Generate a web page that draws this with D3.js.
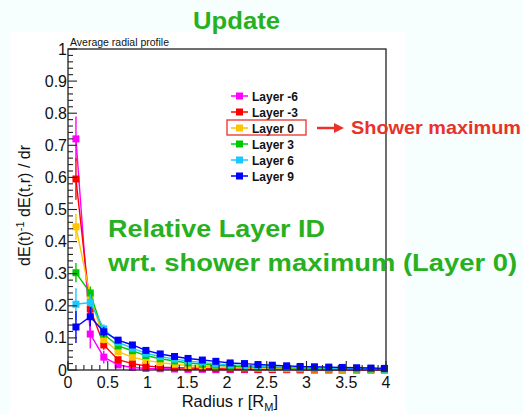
<!DOCTYPE html>
<html>
<head>
<meta charset="utf-8">
<script src="https://cdn.jsdelivr.net/npm/d3@7/dist/d3.min.js"></script>
<style>
  html, body { margin: 0; padding: 0; background: #f7fefe; }
  svg { display: block; }
</style>
</head>
<body>
<svg id="chart" width="523" height="414"></svg>
<script>
// Radial bin centres (in Moliere radii)
const radius = [0.10, 0.28, 0.45, 0.63, 0.81, 0.98, 1.16, 1.34, 1.51, 1.69, 1.86, 2.04,
                2.22, 2.39, 2.57, 2.75, 2.92, 3.10, 3.28, 3.45, 3.63, 3.81, 3.98];

const layerNames = ["Layer -6", "Layer -3", "Layer 0", "Layer 3", "Layer 6", "Layer 9"];
const layerColors = ["#ff00ff", "#ff0000", "#ffc400", "#00c800", "#19c8ff", "#0000ff"];

// Average normalised radial energy profile per layer
const layerM6 = [0.720, 0.112, 0.040, 0.016, 0.008, 0.005, 0.004, 0.003, 0.002, 0.002, 0.001, 0.001,
                 0.001, 0.001, 0.001, 0.001, 0.000, 0.000, 0.000, 0.000, 0.000, 0.000, 0.000];
const layerM3 = [0.595, 0.190, 0.078, 0.032, 0.020, 0.013, 0.009, 0.007, 0.006, 0.005, 0.004, 0.003,
                 0.003, 0.002, 0.002, 0.002, 0.002, 0.001, 0.001, 0.001, 0.001, 0.001, 0.001];
const layer0  = [0.446, 0.230, 0.095, 0.057, 0.040, 0.030, 0.023, 0.018, 0.014, 0.011, 0.009, 0.008,
                 0.007, 0.006, 0.005, 0.004, 0.004, 0.003, 0.003, 0.002, 0.002, 0.002, 0.002];
const layerP3 = [0.303, 0.240, 0.112, 0.075, 0.060, 0.045, 0.035, 0.028, 0.022, 0.018, 0.015, 0.012,
                 0.010, 0.009, 0.008, 0.007, 0.006, 0.005, 0.004, 0.004, 0.003, 0.003, 0.002];
const layerP6 = [0.205, 0.210, 0.128, 0.086, 0.068, 0.052, 0.042, 0.034, 0.028, 0.023, 0.019, 0.016,
                 0.014, 0.012, 0.010, 0.009, 0.008, 0.007, 0.006, 0.005, 0.004, 0.004, 0.003];
const layerP9 = [0.134, 0.166, 0.119, 0.093, 0.078, 0.061, 0.050, 0.042, 0.036, 0.031, 0.027, 0.022,
                 0.020, 0.017, 0.015, 0.013, 0.011, 0.010, 0.009, 0.008, 0.007, 0.006, 0.005];

// Statistical uncertainties
const errM6 = [0.070, 0.045, 0.020, 0.008, 0.004, 0.003, 0.002, 0.002, 0.001, 0.001, 0.001, 0.001,
               0.001, 0.001, 0.001, 0.001, 0.001, 0.001, 0.001, 0.001, 0.001, 0.001, 0.001];
const errM3 = [0.065, 0.030, 0.015, 0.008, 0.005, 0.003, 0.002, 0.002, 0.001, 0.001, 0.001, 0.001,
               0.001, 0.001, 0.001, 0.001, 0.001, 0.001, 0.001, 0.001, 0.001, 0.001, 0.001];
const err0  = [0.040, 0.020, 0.012, 0.008, 0.005, 0.004, 0.003, 0.002, 0.002, 0.001, 0.001, 0.001,
               0.001, 0.001, 0.001, 0.001, 0.001, 0.001, 0.001, 0.001, 0.001, 0.001, 0.001];
const errP3 = [0.030, 0.020, 0.012, 0.008, 0.006, 0.004, 0.003, 0.003, 0.002, 0.002, 0.001, 0.001,
               0.001, 0.001, 0.001, 0.001, 0.001, 0.001, 0.001, 0.001, 0.001, 0.001, 0.001];
const errP6 = [0.050, 0.025, 0.014, 0.009, 0.006, 0.005, 0.004, 0.003, 0.002, 0.002, 0.002, 0.001,
               0.001, 0.001, 0.001, 0.001, 0.001, 0.001, 0.001, 0.001, 0.001, 0.001, 0.001];
const errP9 = [0.050, 0.030, 0.015, 0.010, 0.007, 0.006, 0.004, 0.003, 0.003, 0.002, 0.002, 0.002,
               0.002, 0.001, 0.001, 0.001, 0.001, 0.001, 0.001, 0.001, 0.001, 0.001, 0.001];

const seriesValues = [layerM6, layerM3, layer0, layerP3, layerP6, layerP9];
const seriesErrors = [errM6, errM3, err0, errP3, errP6, errP9];

const xTickValues = [0, 0.5, 1, 1.5, 2, 2.5, 3, 3.5, 4];
const yTickValues = [0, 0.1, 0.2, 0.3, 0.4, 0.5, 0.6, 0.7, 0.8, 0.9, 1];

const svg = d3.select("#chart");
const FONT = "'Liberation Sans', Arial, Helvetica, sans-serif";

// Canvas pad
svg.append("rect").attr("x", 10).attr("y", 32).attr("width", 396).attr("height", 382)
   .attr("fill", "#ffffff");

const frame = { left: 68, right: 386, top: 49, bottom: 370 };
const x = d3.scaleLinear().domain([0, 4]).range([frame.left, frame.right]);
const y = d3.scaleLinear().domain([0, 1]).range([frame.bottom, frame.top]);

// Data: lines, error bars, markers
const plot = svg.append("g");
seriesValues.forEach((vals, s) => {
  const pts = radius.map((r, i) => ({ r, v: vals[i], e: seriesErrors[s][i] }));
  const g = plot.append("g");
  g.append("path")
    .datum(pts)
    .attr("fill", "none")
    .attr("stroke", layerColors[s])
    .attr("stroke-width", 1.4)
    .attr("d", d3.line().x(d => x(d.r)).y(d => y(Math.max(0, d.v))));
  g.selectAll("line.err").data(pts).enter().append("line")
    .attr("x1", d => x(d.r)).attr("x2", d => x(d.r))
    .attr("y1", d => y(Math.max(0, d.v - d.e))).attr("y2", d => y(d.v + d.e))
    .attr("stroke", layerColors[s]).attr("stroke-width", 1.4);
  g.selectAll("rect.mk").data(pts).enter().append("rect")
    .attr("x", d => x(d.r) - 3.5).attr("y", d => y(d.v) - 3.5)
    .attr("width", 7).attr("height", 7)
    .attr("fill", layerColors[s]);
});

// Frame
svg.append("rect")
  .attr("x", frame.left).attr("y", frame.top)
  .attr("width", frame.right - frame.left).attr("height", frame.bottom - frame.top)
  .attr("fill", "none").attr("stroke", "#222").attr("stroke-width", 1.3);

// Axes with inward-pointing ticks
const axisG = svg.append("g").attr("stroke", "#222").attr("stroke-width", 1.1);
d3.range(0, 4.0001, 0.1).forEach(t => {
  const major = Math.abs(t * 2 - Math.round(t * 2)) < 1e-6;
  axisG.append("line").attr("x1", x(t)).attr("x2", x(t))
    .attr("y1", frame.bottom).attr("y2", frame.bottom - (major ? 9 : 5));
});
d3.range(0, 1.0001, 0.02).forEach(t => {
  const major = Math.abs(t * 10 - Math.round(t * 10)) < 1e-6;
  axisG.append("line").attr("y1", y(t)).attr("y2", y(t))
    .attr("x1", frame.left).attr("x2", frame.left + (major ? 9 : 5));
});

const tickFmt = d => d3.format("")(+d.toFixed(1));
svg.append("g").selectAll("text").data(xTickValues).enter().append("text")
  .attr("x", d => x(d)).attr("y", 388)
  .attr("text-anchor", "middle")
  .attr("font-family", FONT).attr("font-size", 16).attr("fill", "#111")
  .text(tickFmt);
svg.append("g").selectAll("text").data(yTickValues).enter().append("text")
  .attr("x", 67).attr("y", d => y(d) + 5.5)
  .attr("text-anchor", "end")
  .attr("font-family", FONT).attr("font-size", 16).attr("fill", "#111")
  .text(tickFmt);

// Axis titles
const xt = svg.append("text").attr("x", 278).attr("y", 407).attr("text-anchor", "end")
  .attr("font-family", FONT).attr("font-size", 16.5).attr("fill", "#111");
xt.append("tspan").text("Radius r [R");
xt.append("tspan").attr("font-size", 11).attr("dy", 4).text("M");
xt.append("tspan").attr("dy", -4).text("]");

const yt = svg.append("text").attr("transform", "translate(30,145) rotate(-90)")
  .attr("text-anchor", "end")
  .attr("font-family", FONT).attr("font-size", 16).attr("fill", "#111");
yt.append("tspan").text("dE(t)");
yt.append("tspan").attr("font-size", 11).attr("dy", -6).text("-1");
yt.append("tspan").attr("dy", 6).text(" dE(t,r) / dr");

svg.append("text").attr("x", 70).attr("y", 45.5)
  .attr("font-family", FONT).attr("font-size", 10.5).attr("fill", "#111")
  .text("Average radial profile");

// Legend
const legendRows = [96, 112, 128, 144, 160, 176];
const leg = svg.append("g");
layerNames.forEach((name, i) => {
  const ly = legendRows[i];
  leg.append("line").attr("x1", 231).attr("x2", 248).attr("y1", ly).attr("y2", ly)
    .attr("stroke", layerColors[i]).attr("stroke-width", 1.5);
  leg.append("rect").attr("x", 236).attr("y", ly - 3.5).attr("width", 7).attr("height", 7)
    .attr("fill", layerColors[i]);
  leg.append("text").attr("x", 252).attr("y", ly + 4.5)
    .attr("font-family", FONT).attr("font-size", 12).attr("font-weight", "bold")
    .attr("fill", "#111").text(name);
});

// Highlight of the shower-maximum layer
const ann = "#e8322a";
svg.append("rect").attr("x", 227).attr("y", 120).attr("width", 79).attr("height", 15)
  .attr("fill", "none").attr("stroke", ann).attr("stroke-width", 1.3);
svg.append("line").attr("x1", 317).attr("x2", 336).attr("y1", 128).attr("y2", 128)
  .attr("stroke", ann).attr("stroke-width", 2.5);
svg.append("path").attr("d", "M334,123 L344,128 L334,133 Z").attr("fill", ann);
svg.append("text").attr("x", 351).attr("y", 134)
  .attr("font-family", FONT).attr("font-size", 19).attr("font-weight", "bold")
  .attr("textLength", 170).attr("lengthAdjust", "spacingAndGlyphs")
  .attr("fill", ann).text("Shower maximum");

// Green slide annotations
const green = "#27b020";
svg.append("text").attr("x", 193).attr("y", 29)
  .attr("font-family", FONT).attr("font-size", 23.5).attr("font-weight", "bold")
  .attr("textLength", 87).attr("lengthAdjust", "spacingAndGlyphs")
  .attr("fill", green).text("Update");
svg.append("text").attr("x", 108).attr("y", 237)
  .attr("font-family", FONT).attr("font-size", 23.5).attr("font-weight", "bold")
  .attr("textLength", 217).attr("lengthAdjust", "spacingAndGlyphs")
  .attr("fill", green).text("Relative Layer ID");
svg.append("text").attr("x", 108).attr("y", 271)
  .attr("font-family", FONT).attr("font-size", 23.5).attr("font-weight", "bold")
  .attr("textLength", 409).attr("lengthAdjust", "spacingAndGlyphs")
  .attr("fill", green).text("wrt. shower maximum (Layer 0)");
</script>
</body>
</html>
